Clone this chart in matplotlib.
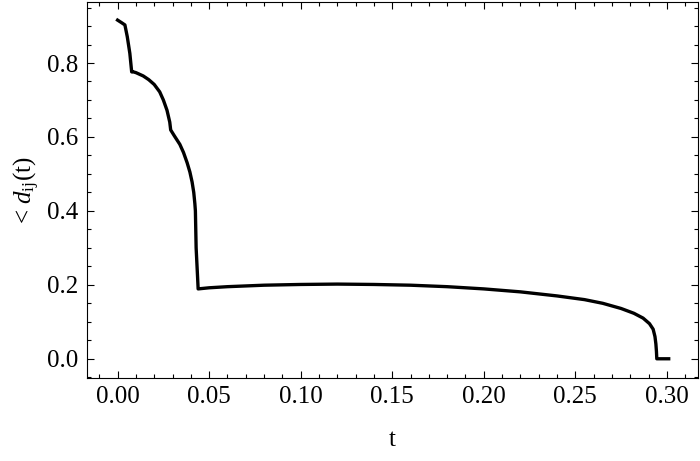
"""Recreate the <d_ij(t)> decay curve plot"""
# Third Party Imports
import numpy as np
import matplotlib
matplotlib.use('Agg')
import matplotlib.pyplot as plt
from matplotlib.ticker import MultipleLocator, FormatStrFormatter

# %% Data
t_vals = [0.0, 0.0022, 0.004, 0.0053, 0.0067, 0.0077,
          0.0079, 0.010, 0.014, 0.017, 0.020, 0.023, 0.025, 0.027, 0.0285, 0.029,
          0.031, 0.034, 0.036, 0.038, 0.0395, 0.0407, 0.0416, 0.0422, 0.0425,
          0.0429, 0.0437, 0.044,
          0.050, 0.060, 0.080, 0.100, 0.120, 0.140, 0.160, 0.180, 0.200,
          0.220, 0.240, 0.255, 0.265, 0.275, 0.282, 0.287, 0.2905, 0.2925,
          0.2935, 0.294, 0.2943, 0.2945, 0.301]
d_vals = [0.916, 0.909, 0.903, 0.871, 0.826, 0.776,
          0.777, 0.774, 0.765, 0.755, 0.742, 0.722, 0.700, 0.672, 0.640, 0.619,
          0.603, 0.580, 0.558, 0.530, 0.505, 0.478, 0.450, 0.420, 0.400,
          0.300, 0.220, 0.189,
          0.192, 0.195, 0.199, 0.201, 0.202, 0.201, 0.199, 0.195, 0.189,
          0.181, 0.170, 0.160, 0.150, 0.136, 0.123, 0.110, 0.095, 0.080,
          0.060, 0.040, 0.020, 0.0, 0.0]

x_ticks = [0.00, 0.05, 0.10, 0.15, 0.20, 0.25, 0.30]
y_ticks = [0.0, 0.2, 0.4, 0.6, 0.8]

# %% Style
plt.rcParams['font.family'] = ['Liberation Serif', 'DejaVu Serif']
plt.rcParams['mathtext.fontset'] = 'custom'
plt.rcParams['mathtext.rm'] = 'Liberation Serif'
plt.rcParams['mathtext.it'] = 'Liberation Serif:italic'

fig = plt.figure(figsize=(7.0, 4.61), dpi=100)
ax = fig.add_axes([87 / 700, 1 - 378 / 461, (698 - 87) / 700, (378 - 2) / 461])

ax.plot(t_vals, d_vals, color='black', linewidth=2.4, solid_joinstyle='round')

ax.set_xlim(-0.0167, 0.317)
ax.set_ylim(-0.052, 0.965)
ax.set_xticks(x_ticks)
ax.set_yticks(y_ticks)
ax.xaxis.set_major_formatter(FormatStrFormatter('%.2f'))
ax.yaxis.set_major_formatter(FormatStrFormatter('%.1f'))
ax.xaxis.set_minor_locator(MultipleLocator(0.01))
ax.yaxis.set_minor_locator(MultipleLocator(0.05))

ax.tick_params(which='both', direction='in', top=True, right=True,
               labelsize=18, width=0.8, pad=6)
ax.tick_params(which='major', length=5)
ax.tick_params(which='minor', length=3)
for spine in ax.spines.values():
    spine.set_linewidth(0.8)

ax.set_xlabel('t', fontsize=18, labelpad=15)
ax.set_ylabel(r'< $\mathit{d}_{\mathrm{ij}}$(t)', fontsize=18, labelpad=4)

fig.savefig('out.png', dpi=100)
